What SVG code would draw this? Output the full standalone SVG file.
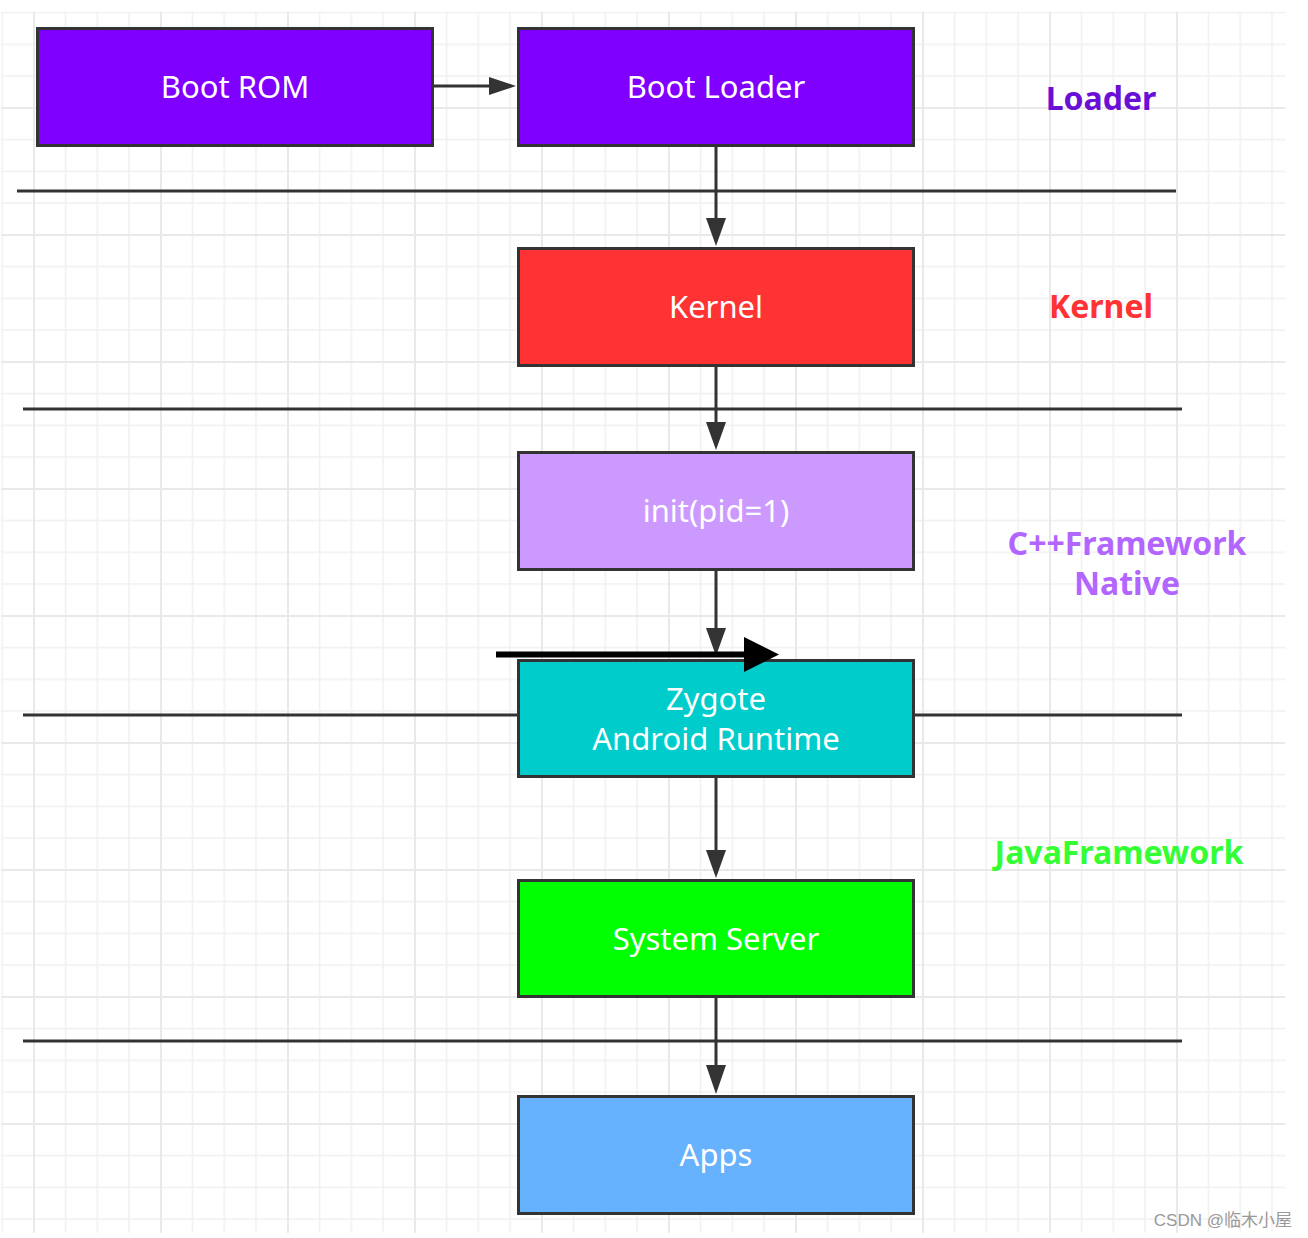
<svg xmlns="http://www.w3.org/2000/svg" width="1308" height="1238" viewBox="0 0 1308 1238">
<style>
.box{stroke:#333333;stroke-width:3}
.bt{font-family:"Noto Sans","Open Sans",sans-serif;font-size:31px;fill:#ffffff;text-anchor:middle}
.lbl{font-family:"Noto Sans","Open Sans",sans-serif;font-size:32px;font-weight:bold;text-anchor:middle}
.div{stroke:#333333;stroke-width:3;fill:none}
.con{stroke:#333333;stroke-width:3;fill:none}
.head{fill:#333333}
</style>
<defs>
<pattern id="minor" patternUnits="userSpaceOnUse" x="1.25" y="11.75" width="31.75" height="31.75">
<rect x="0" y="0" width="31.75" height="1.5" fill="#f0f0f0"/>
<rect x="0" y="0" width="1.5" height="31.75" fill="#f0f0f0"/>
</pattern>
<pattern id="major" patternUnits="userSpaceOnUse" x="33" y="11.75" width="127" height="95.25">
<rect x="0" y="0" width="2" height="95.25" fill="#e9e9e9"/>
</pattern>
<pattern id="majorh" patternUnits="userSpaceOnUse" x="0" y="107" width="127" height="127">
<rect x="0" y="0" width="127" height="2" fill="#e9e9e9"/>
</pattern>
</defs>
<rect width="1308" height="1238" fill="#ffffff"/>
<g id="grid">
<rect x="1.25" y="11.75" width="1284" height="1221" fill="url(#minor)"/>
<rect x="32" y="11.75" width="1253" height="1221" fill="url(#major)"/>
<rect x="1.25" y="106" width="1284" height="1126" fill="url(#majorh)"/>
</g>
<g id="dividers">
<line class="div" x1="17" y1="191" x2="1176" y2="191"/>
<line class="div" x1="23" y1="409" x2="1182" y2="409"/>
<line class="div" x1="23" y1="715" x2="518" y2="715"/>
<line class="div" x1="913" y1="715" x2="1182" y2="715"/>
<line class="div" x1="23" y1="1041" x2="1182" y2="1041"/>
</g>
<g id="connectors">
<line class="con" x1="433" y1="86" x2="492" y2="86"/>
<polygon class="head" points="489,77 516,86 489,95"/>
<line class="con" x1="716" y1="146" x2="716" y2="222"/>
<polygon class="head" points="706,218 726,218 716,246"/>
<line class="con" x1="716" y1="366" x2="716" y2="426"/>
<polygon class="head" points="706,422 726,422 716,450"/>
<line class="con" x1="716" y1="570" x2="716" y2="632"/>
<polygon class="head" points="706,628 726,628 716,656"/>
<line class="con" x1="716" y1="777" x2="716" y2="854"/>
<polygon class="head" points="706,850 726,850 716,878"/>
<line class="con" x1="716" y1="997" x2="716" y2="1069"/>
<polygon class="head" points="706,1065 726,1065 716,1094"/>
</g>
<g id="node-bootrom">
<rect class="box" x="37.5" y="28.5" width="395" height="117" fill="#8000ff"/>
<text class="bt" x="235" y="98">Boot ROM</text>
</g>
<g id="node-bootloader">
<rect class="box" x="518.5" y="28.5" width="395" height="117" fill="#8000ff"/>
<text class="bt" x="716" y="98">Boot Loader</text>
</g>
<g id="node-kernel">
<rect class="box" x="518.5" y="248.5" width="395" height="117" fill="#ff3333"/>
<text class="bt" x="716" y="318">Kernel</text>
</g>
<g id="node-init">
<rect class="box" x="518.5" y="452.5" width="395" height="117" fill="#cc99ff"/>
<text class="bt" x="716" y="522">init(pid=1)</text>
</g>
<g id="node-zygote">
<rect class="box" x="518.5" y="660.5" width="395" height="116" fill="#00cccc"/>
<text class="bt" x="716" y="710">Zygote</text>
<text class="bt" x="716" y="750">Android Runtime</text>
</g>
<g id="node-systemserver">
<rect class="box" x="518.5" y="880.5" width="395" height="116" fill="#00ff00"/>
<text class="bt" x="716" y="950">System Server</text>
</g>
<g id="node-apps">
<rect class="box" x="518.5" y="1096.5" width="395" height="117" fill="#66b2ff"/>
<text class="bt" x="716" y="1166">Apps</text>
</g>
<g id="labels">
<text class="lbl" x="1101" y="110" fill="#6a0fd6">Loader</text>
<text class="lbl" x="1101" y="318" fill="#ff3333">Kernel</text>
<text class="lbl" x="1127" y="555" fill="#b266ff">C++Framework</text>
<text class="lbl" x="1127" y="595" fill="#b266ff">Native</text>
<text class="lbl" x="1119" y="864" fill="#33ff33">JavaFramework</text>
</g>
<g id="overlay-arrow">
<line x1="496" y1="654.5" x2="748" y2="654.5" stroke="#000000" stroke-width="6"/>
<polygon points="744,637 779,654.5 744,672" fill="#000000"/>
</g>
<text x="1292" y="1226" text-anchor="end" font-family="'Liberation Sans','Noto Sans CJK SC',sans-serif" font-size="17" fill="#999999">CSDN @临木小屋</text>
</svg>
